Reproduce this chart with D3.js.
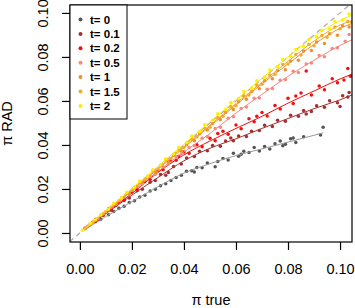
<!DOCTYPE html>
<html>
<head>
<meta charset="utf-8">
<script src="https://cdn.jsdelivr.net/npm/d3@7"></script>
<style>
  body { margin: 0; background: #fff; }
  svg { display: block; font-family: "Liberation Sans", Arial, sans-serif; }
</style>
</head>
<body>
<svg id="chart" width="355" height="308"></svg>
<script>
// legend labels and colours
var labels = ['t= 0', 't= 0.1', 't= 0.2', 't= 0.5', 't= 1', 't= 1.5', 't= 2'];
var colors = ['#555555', '#a52f2f', '#ee1111', '#f58a80', '#ee9030', '#f7a92a', '#ffee00'];
var lineColors = ['#9a9a9a', '#a52f2f', '#ee1111', '#f58a80', '#ee9030', '#f7a92a', '#ffee00'];

var xTicks = [0, 0.02, 0.04, 0.06, 0.08, 0.1];
var yTicks = [0, 0.02, 0.04, 0.06, 0.08, 0.1];

// scatter points [pi true, pi RAD]
var pts0 = [[0.008,0.0062],[0.011,0.0083],[0.013,0.0098],[0.015,0.0112],[0.017,0.0121],[0.019,0.0139],[0.021,0.0147],[0.023,0.0163],[0.025,0.0172],[0.027,0.0191],[0.029,0.0199],[0.031,0.0215],[0.033,0.0224],[0.035,0.0238],[0.037,0.0252],[0.039,0.0262],[0.041,0.0281],[0.043,0.0283],[0.045,0.0298],[0.047,0.0296],[0.049,0.0318],[0.052,0.0301],[0.053,0.0325],[0.055,0.0338],[0.057,0.0332],[0.059,0.0362],[0.061,0.0349],[0.063,0.0371],[0.065,0.0366],[0.067,0.0389],[0.069,0.0372],[0.071,0.0393],[0.073,0.0382],[0.075,0.0405],[0.077,0.0418],[0.079,0.0403],[0.081,0.0428],[0.083,0.0411],[0.086,0.0437],[0.0925,0.0445],[0.0935,0.048],[0.044,0.0277],[0.062,0.0358],[0.078,0.0396],[0.082,0.0432]];
var pts01 = [[0.003,0.0029],[0.006,0.0052],[0.009,0.0081],[0.012,0.0103],[0.014,0.0126],[0.017,0.0148],[0.019,0.0159],[0.022,0.0192],[0.024,0.0199],[0.027,0.0231],[0.029,0.0238],[0.031,0.0266],[0.034,0.0275],[0.036,0.0302],[0.039,0.0314],[0.041,0.0341],[0.044,0.0347],[0.046,0.0371],[0.049,0.0374],[0.051,0.0398],[0.054,0.0394],[0.056,0.0418],[0.059,0.0419],[0.061,0.0441],[0.064,0.0438],[0.066,0.0462],[0.069,0.0466],[0.071,0.0489],[0.074,0.0484],[0.076,0.0512],[0.079,0.0508],[0.081,0.0535],[0.084,0.0531],[0.086,0.0557],[0.089,0.0552],[0.091,0.0578],[0.094,0.0571],[0.096,0.0601],[0.099,0.0592],[0.101,0.0624],[0.103,0.0618],[0.1035,0.0638],[0.033,0.0262],[0.058,0.0432],[0.087,0.0541],[0.1,0.0575]];
var pts02 = [[0.002,0.0021],[0.005,0.0049],[0.007,0.0062],[0.010,0.0095],[0.012,0.0108],[0.015,0.0141],[0.017,0.0152],[0.020,0.0186],[0.022,0.0196],[0.025,0.0235],[0.027,0.0243],[0.030,0.0284],[0.032,0.0287],[0.035,0.0328],[0.037,0.0331],[0.040,0.0368],[0.042,0.0362],[0.045,0.0401],[0.047,0.0392],[0.050,0.0431],[0.052,0.0419],[0.055,0.0462],[0.057,0.0449],[0.060,0.0491],[0.062,0.0474],[0.065,0.0519],[0.067,0.0506],[0.070,0.0548],[0.072,0.0532],[0.075,0.0579],[0.077,0.0563],[0.080,0.0612],[0.082,0.0588],[0.085,0.0636],[0.087,0.0736],[0.089,0.0627],[0.092,0.0668],[0.094,0.0651],[0.097,0.0701],[0.099,0.0683],[0.1015,0.0695],[0.103,0.0748],[0.104,0.0712],[0.038,0.0349],[0.053,0.0452],[0.068,0.0531],[0.083,0.0622]];
var pts05 = [[0.002,0.0019],[0.004,0.0041],[0.007,0.0066],[0.009,0.0088],[0.012,0.0117],[0.014,0.0131],[0.017,0.0164],[0.019,0.0178],[0.022,0.0211],[0.024,0.0223],[0.027,0.0257],[0.029,0.0266],[0.032,0.0301],[0.034,0.0312],[0.037,0.0346],[0.039,0.0355],[0.042,0.0389],[0.044,0.0398],[0.047,0.0431],[0.049,0.0437],[0.052,0.0475],[0.054,0.0481],[0.057,0.0521],[0.059,0.0528],[0.062,0.0566],[0.064,0.0572],[0.067,0.0612],[0.069,0.0613],[0.072,0.0653],[0.074,0.0656],[0.077,0.0694],[0.079,0.0697],[0.082,0.0735],[0.084,0.0729],[0.087,0.0768],[0.089,0.0772],[0.092,0.0806],[0.094,0.0801],[0.097,0.0838],[0.099,0.0842],[0.102,0.0871],[0.1035,0.0902]];
var pts1 = [[0.002,0.0021],[0.004,0.0039],[0.006,0.0062],[0.009,0.0086],[0.011,0.0111],[0.014,0.0134],[0.016,0.0159],[0.019,0.0182],[0.021,0.0208],[0.024,0.0229],[0.026,0.0256],[0.029,0.0276],[0.031,0.0305],[0.034,0.0322],[0.036,0.0352],[0.039,0.0371],[0.041,0.0401],[0.044,0.0419],[0.046,0.0451],[0.049,0.0468],[0.051,0.0497],[0.054,0.0514],[0.056,0.0548],[0.059,0.0561],[0.061,0.0596],[0.064,0.0608],[0.066,0.0643],[0.069,0.0655],[0.071,0.0692],[0.074,0.0701],[0.076,0.0738],[0.079,0.0742],[0.081,0.0781],[0.084,0.0785],[0.086,0.0827],[0.089,0.0829],[0.091,0.0868],[0.094,0.0861],[0.096,0.0905],[0.099,0.0898],[0.101,0.0942],[0.1035,0.0936]];
var pts15 = [[0.003,0.0031],[0.005,0.0048],[0.008,0.0081],[0.010,0.0097],[0.013,0.0131],[0.015,0.0146],[0.018,0.0181],[0.020,0.0194],[0.023,0.0231],[0.025,0.0243],[0.028,0.0281],[0.030,0.0291],[0.033,0.0329],[0.035,0.0339],[0.038,0.0379],[0.040,0.0388],[0.043,0.0427],[0.045,0.0436],[0.048,0.0476],[0.050,0.0481],[0.053,0.0524],[0.055,0.0531],[0.058,0.0575],[0.060,0.0579],[0.063,0.0623],[0.065,0.0627],[0.068,0.0671],[0.070,0.0676],[0.073,0.0718],[0.075,0.0721],[0.078,0.0766],[0.080,0.0768],[0.083,0.0811],[0.085,0.0809],[0.088,0.0856],[0.090,0.0851],[0.093,0.0897],[0.095,0.0889],[0.098,0.0936],[0.100,0.0928],[0.103,0.0961],[0.1045,0.0958]];
var pts2 = [[0.001,0.0012],[0.004,0.0043],[0.006,0.0059],[0.008,0.0083],[0.011,0.0108],[0.013,0.0134],[0.016,0.0158],[0.018,0.0185],[0.021,0.0208],[0.023,0.0236],[0.026,0.0258],[0.028,0.0287],[0.031,0.0309],[0.033,0.0337],[0.036,0.0359],[0.038,0.0389],[0.041,0.0411],[0.043,0.0441],[0.046,0.0461],[0.048,0.0492],[0.051,0.0512],[0.053,0.0542],[0.056,0.0561],[0.058,0.0593],[0.061,0.0611],[0.063,0.0643],[0.066,0.0659],[0.068,0.0692],[0.071,0.0708],[0.073,0.0741],[0.076,0.0755],[0.078,0.0788],[0.081,0.0803],[0.083,0.0834],[0.086,0.0847],[0.088,0.0879],[0.091,0.0889],[0.093,0.0921],[0.096,0.0927],[0.098,0.0961],[0.101,0.0968],[0.1035,0.0995]];

// fitted curves, read at these x values
var fitX = [0.001, 0.01, 0.02, 0.03, 0.04, 0.05, 0.06, 0.07, 0.08, 0.09, 0.1, 0.1046];
var fit0 = [0.0008, 0.0075, 0.0142, 0.021, 0.0272, 0.0315, 0.0352, 0.0382, 0.0413, 0.0444];
var fit01 = [0.0009, 0.0088, 0.0172, 0.0252, 0.0328, 0.0385, 0.0428, 0.0475, 0.052, 0.0565, 0.0605, 0.0627];
var fit02 = [0.0009, 0.0092, 0.018, 0.0275, 0.0355, 0.0418, 0.0475, 0.053, 0.059, 0.0645, 0.07, 0.0722];
var fit05 = [0.001, 0.0096, 0.019, 0.028, 0.0368, 0.0452, 0.0545, 0.063, 0.0712, 0.0785, 0.0852, 0.0878];
var fit1 = [0.001, 0.0098, 0.0195, 0.029, 0.0388, 0.0485, 0.0582, 0.0678, 0.0768, 0.0857, 0.093, 0.0952];
var fit15 = [0.001, 0.0099, 0.0197, 0.0295, 0.0393, 0.049, 0.0588, 0.0685, 0.078, 0.0872, 0.0945, 0.0965];
var fit2 = [0.001, 0.0101, 0.0202, 0.0303, 0.0404, 0.0505, 0.0605, 0.0703, 0.08, 0.0893, 0.0965, 0.099];
var fit0End = [0.0935, 0.0455];

var points = [pts0, pts01, pts02, pts05, pts1, pts15, pts2];
var fits = [fit0, fit01, fit02, fit05, fit1, fit15, fit2];

var svg = d3.select('#chart');
var pLeft = 70, pRight = 352, pTop = 5, pBottom = 242;

var x = d3.scaleLinear().domain([-0.0038, 0.1046]).range([pLeft, pRight]);
var y = d3.scaleLinear().domain([-0.0041, 0.1036]).range([pBottom, pTop]);

svg.append('clipPath').attr('id', 'clip')
  .append('rect').attr('x', pLeft).attr('y', pTop)
  .attr('width', pRight - pLeft).attr('height', pBottom - pTop);

var plot = svg.append('g').attr('clip-path', 'url(#clip)');

// identity line
plot.append('line')
  .attr('x1', x(-0.004)).attr('y1', y(-0.004))
  .attr('x2', x(0.11)).attr('y2', y(0.11))
  .attr('stroke', '#aaaaaa').attr('stroke-width', 1.2)
  .attr('stroke-dasharray', '5,4');

var line = d3.line()
  .x(d => x(d[0]))
  .y(d => y(d[1]))
  .curve(d3.curveMonotoneX);

points.forEach(function(p, i) {
  plot.append('g').selectAll('circle')
    .data(p)
    .enter()
    .append('circle')
    .attr('cx', d => x(d[0]))
    .attr('cy', d => y(d[1]))
    .attr('r', 1.75)
    .attr('fill', colors[i]);

  var fd = fits[i].map((v, k) => [fitX[k], v]);
  if (i === 0) fd.push(fit0End);
  plot.append('path')
    .datum(fd)
    .attr('d', line)
    .attr('fill', 'none')
    .attr('stroke', lineColors[i])
    .attr('stroke-width', 1);
});

// box
svg.append('rect')
  .attr('x', pLeft).attr('y', pTop)
  .attr('width', pRight - pLeft).attr('height', pBottom - pTop)
  .attr('fill', 'none').attr('stroke', '#000').attr('stroke-width', 1.2);

// axes
var xAxis = svg.append('g')
  .attr('transform', `translate(0, ${pBottom})`)
  .call(d3.axisBottom(x).tickValues(xTicks).tickFormat(d3.format('.2f')).tickSize(8).tickPadding(14));
xAxis.select('.domain').remove();
xAxis.selectAll('text').attr('font-size', 14.5).attr('fill', '#000').attr('font-family', '"Liberation Sans", Arial, sans-serif');

var yAxis = svg.append('g')
  .attr('transform', `translate(${pLeft}, 0)`)
  .call(d3.axisLeft(y).tickValues(yTicks).tickFormat(d3.format('.2f')).tickSize(8));
yAxis.select('.domain').remove();
yAxis.selectAll('text')
  .attr('x', 0).attr('dy', 0)
  .attr('text-anchor', 'middle')
  .attr('transform', 'translate(-22,0) rotate(-90)')
  .attr('font-size', 14.5).attr('fill', '#000')
  .attr('font-family', '"Liberation Sans", Arial, sans-serif');
yAxis.selectAll('.tick line').attr('stroke-width', 1.2);
xAxis.selectAll('.tick line').attr('stroke-width', 1.2);

// titles
svg.append('text')
  .attr('x', (pLeft + pRight) / 2).attr('y', 305)
  .attr('text-anchor', 'middle').attr('font-size', 14.5)
  .text('π true');
svg.append('text')
  .attr('transform', `translate(12, ${(pTop + pBottom) / 2}) rotate(-90)`)
  .attr('text-anchor', 'middle').attr('font-size', 14.5)
  .text('π RAD');

// legend
var legend = svg.append('g');
legend.append('rect')
  .attr('x', pLeft).attr('y', pTop)
  .attr('width', 57).attr('height', 114)
  .attr('fill', '#fff').attr('stroke', '#000').attr('stroke-width', 1);
labels.forEach(function(l, i) {
  var ly = 19.5 + i * 14.4;
  legend.append('circle')
    .attr('cx', 80.5).attr('cy', ly).attr('r', 2)
    .attr('fill', colors[i]);
  legend.append('text')
    .attr('x', 90).attr('y', ly + 4)
    .attr('font-size', 11.5).attr('font-weight', 'bold')
    .text(l);
});
</script>
</body>
</html>
